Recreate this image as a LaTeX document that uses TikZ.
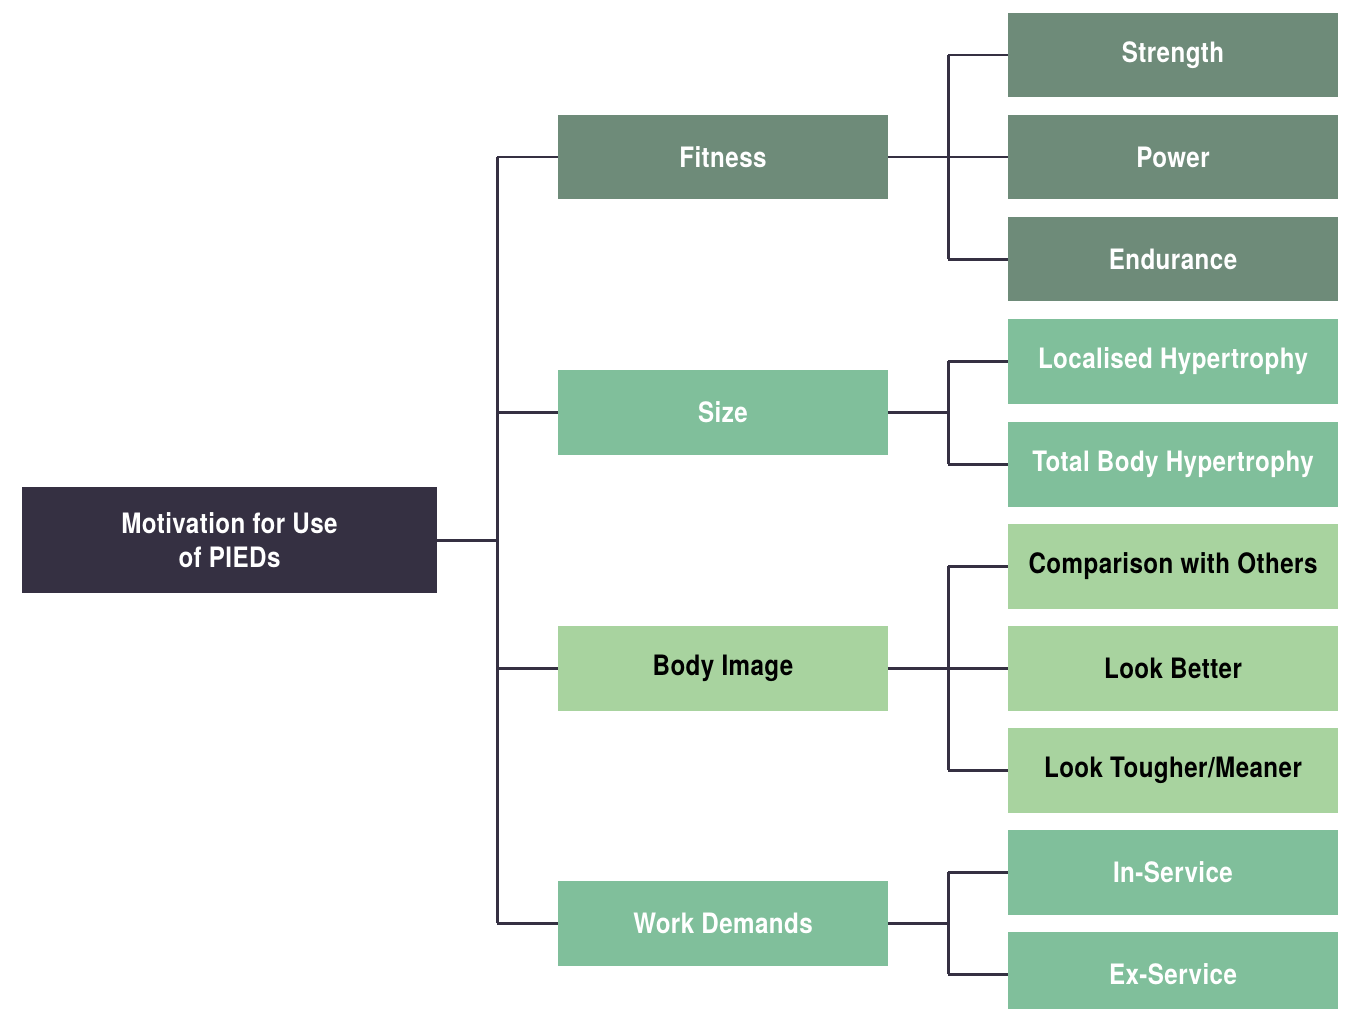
\documentclass[tikz,border=0pt]{standalone}
\usepackage{fontspec}
\newfontfamily\condfont{TeX Gyre Heros}[FakeStretch=0.86,LetterSpace=1.5]
\usetikzlibrary{positioning}
\definecolor{rootcol}{HTML}{353042}
\definecolor{darkgreen}{HTML}{6E8B79}
\definecolor{midgreen}{HTML}{80BF9B}
\definecolor{lightgreen}{HTML}{A8D39F}
\tikzset{box/.style={rectangle,inner sep=0pt,outer sep=0pt,minimum width=6.6cm,minimum height=1.7cm,
		font=\condfont\bfseries\fontsize{16}{19}\selectfont,align=center},
	 rootbox/.style={box,fill=rootcol,text=white,minimum width=8.3cm,minimum height=2.12cm},
	 darkbox/.style={box,fill=darkgreen,text=white},
	 midbox/.style={box,fill=midgreen,text=white},
	 lightbox/.style={box,fill=lightgreen,text=black},
	 link/.style={draw=rootcol,line width=1.7pt}
	 }

\begin{document}
\begin{tikzpicture}[x=0.02cm,y=-0.02cm] % PIED motivation tree
	\useasboundingbox (0,0) rectangle (1348,1008);
	\node[rootbox] (root) at (229.5,540) {Motivation for Use\\of PIEDs};
	\node[darkbox] (fit) at (723,157) {Fitness};
	\node[midbox] (size) at (723,412) {Size};
	\node[lightbox] (body) at (723,668) {Body Image};
	\node[midbox] (work) at (723,923) {Work Demands};
	\node[darkbox] (str) at (1173,55) {Strength};
	\node[darkbox] (pow) at (1173,157) {Power};
	\node[darkbox] (endu) at (1173,259) {Endurance};
	\node[midbox] (loc) at (1173,361) {Localised Hypertrophy};
	\node[midbox] (tot) at (1173,464) {Total Body Hypertrophy};
	\node[lightbox] (comp) at (1173,566) {Comparison with Others};
	\node[lightbox] (look) at (1173,668) {Look Better};
	\node[lightbox] (tough) at (1173,770) {Look Tougher/Meaner};
	\node[midbox] (ins) at (1173,872) {In-Service};
	\node[midbox] (exs) at (1173,974) {Ex-Service};
	\coordinate (trunk) at (497,0);
	\coordinate (elbow) at (948,0);
	\draw[link] (root.east) -- (root.east -| trunk);
	\draw[link] (fit.west -| trunk) -- (work.west -| trunk);
	\foreach \n in {fit,size,body,work}
		\draw[link] (\n.west -| trunk) -- (\n.west);
	\foreach \p/\a/\b in {fit/str/endu,size/loc/tot,body/comp/tough,work/ins/exs} {
		\draw[link] (\p.east) -- (\p.east -| elbow);
		\draw[link] (\a.west -| elbow) -- (\b.west -| elbow);
	}
	\foreach \n in {str,pow,endu,loc,tot,comp,look,tough,ins,exs}
		\draw[link] (\n.west -| elbow) -- (\n.west);
\end{tikzpicture}
\end{document}
